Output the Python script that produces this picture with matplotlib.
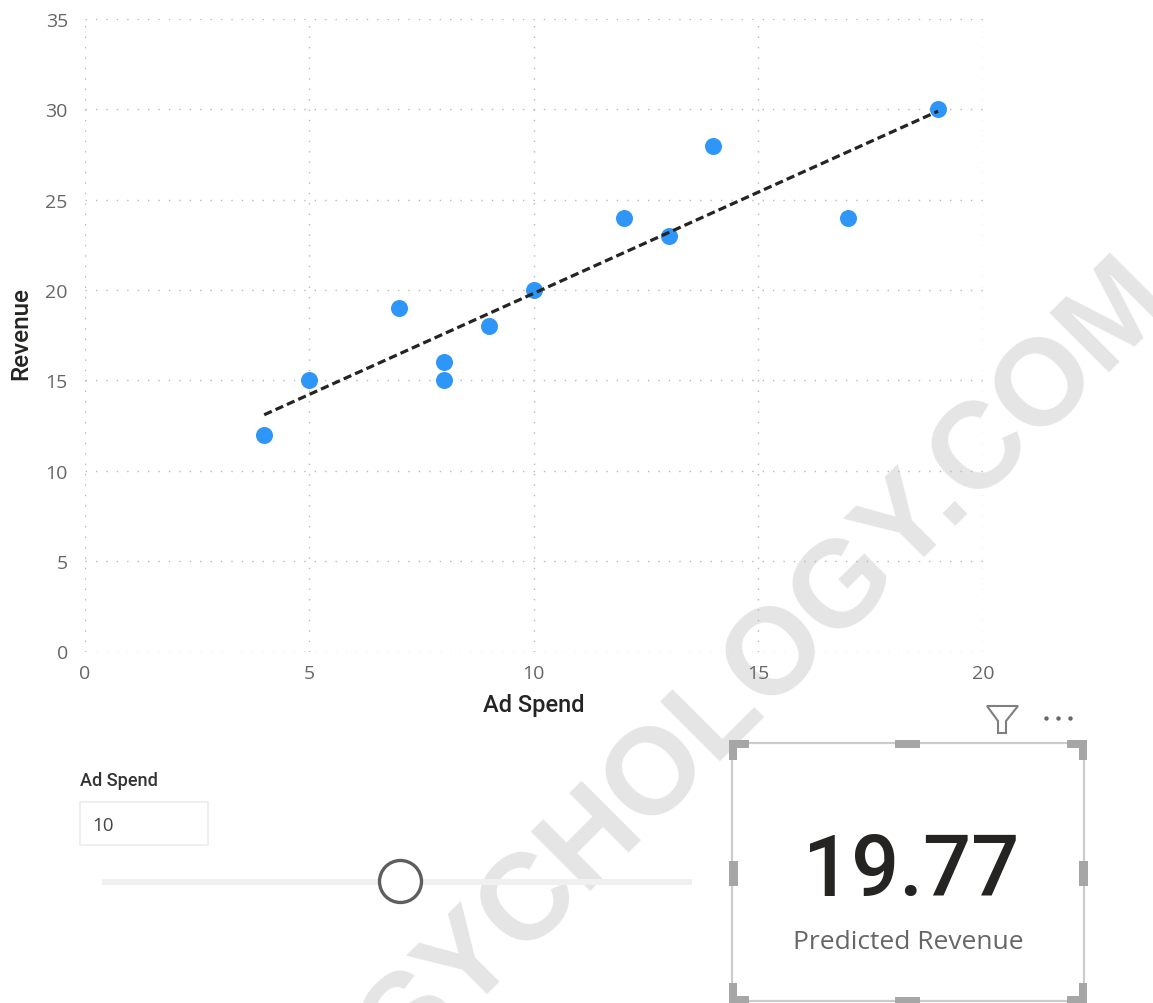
import matplotlib
matplotlib.use("Agg")
import matplotlib.pyplot as plt
from matplotlib.patches import Rectangle, Circle, Polygon

W, H = 1153, 1004

# scatter data
ad_spend = [4, 5, 7, 8, 8, 9, 10, 12, 13, 14, 17, 19]
revenue = [12, 15, 19, 15, 16, 18, 20, 24, 23, 28, 24, 30]
# fitted line ends
trend_x = [4, 19]
trend_y = [13.1, 29.9]

x_ticks = [0, 5, 10, 15, 20]
y_ticks = [0, 5, 10, 15, 20, 25, 30, 35]

slicer_title = "Ad Spend"
slicer_value = "10"
card_value = "19.77"
card_label = "Predicted Revenue"
watermark = "SYCHOLOGY.COM"

BODY = "Open Sans"
HEAD = "Roboto"

fig = plt.figure(figsize=(W / 100, H / 100), dpi=100, facecolor="white")

# full figure overlay in pixel coords, y going down, for the report widgets
ui = fig.add_axes([0, 0, 1, 1], zorder=3)
ui.set_xlim(0, W)
ui.set_ylim(H, 0)
ui.axis("off")
ui.patch.set_alpha(0)

# background layer for the diagonal stamp
bg = fig.add_axes([0, 0, 1, 1], zorder=1)
bg.set_xlim(0, W)
bg.set_ylim(H, 0)
bg.axis("off")
bg.text(768, 665, watermark, rotation=45, rotation_mode="anchor", ha="center", va="center",
        fontsize=88, fontweight="bold", family="Liberation Sans", color="#e5e5e5")

# scatter plot
ax = fig.add_axes([84.5 / W, 1 - 652.5 / H, (983 - 84.5) / W, (652.5 - 20) / H], zorder=2)
ax.patch.set_alpha(0)
ax.set_xlim(0, 20)
ax.set_ylim(0, 35)
for s in ax.spines.values():
    s.set_visible(False)
ax.set_xticks(x_ticks)
ax.set_yticks(y_ticks)
ax.tick_params(axis="x", length=0, labelsize=14, labelcolor="#666666", pad=9)
ax.tick_params(axis="y", length=0, labelsize=14, labelcolor="#666666", pad=12)
for t in ax.get_xticklabels() + ax.get_yticklabels():
    t.set_family(BODY)
ax.grid(True, color="#b8b8b8", linewidth=1.0, linestyle=(0, (1, 6.5)))
ax.set_axisbelow(True)
ax.plot(trend_x, trend_y, color="#252423", linewidth=2.3, linestyle=(0, (2.6, 1.3)), zorder=4)
ax.scatter(ad_spend, revenue, s=150, color="#2f96f9", linewidths=0, zorder=3, clip_on=False)

ui.text(533.5, 706, "Ad Spend", ha="center", va="center", fontsize=17, family=HEAD,
        fontweight="medium", color="#252423")
ui.text(21, 334, "Revenue", ha="center", va="center", rotation=90, fontsize=17.5, family=HEAD,
        fontweight="medium", color="#252423")

# slicer
ui.text(80, 781, slicer_title, ha="left", va="center", fontsize=13, family=HEAD,
        fontweight="medium", color="#333333")
ui.add_patch(Rectangle((80, 803), 127.5, 43, fill=False, edgecolor="#ececec", linewidth=1.2))
ui.text(92, 826, slicer_value, ha="left", va="center", fontsize=13.5, family=BODY, color="#444444")
ui.add_patch(Rectangle((102, 879.5), 590, 6, facecolor="#f0f0f0", edgecolor="none"))
ui.add_patch(Circle((400.5, 882.5), 21, facecolor="white", edgecolor="#605e5c", linewidth=2.4))

# card outline and resize handles
ui.add_patch(Rectangle((732, 744), 352, 258, fill=False, edgecolor="#cccccc", linewidth=1.6))
hc = "#a6a6a6"
for hx, hy, hw, hh in [(895, 741, 25, 8), (895, 998, 25, 6),
                       (729, 862, 8.5, 24.5), (1079, 862, 8.5, 24.5)]:
    ui.add_patch(Rectangle((hx, hy), hw, hh, facecolor=hc, edgecolor="none"))
for cx, cy, dx, dy in [(729, 741, 1, 1), (1087, 741, -1, 1),
                       (729, 1004, 1, -1), (1087, 1004, -1, -1)]:
    ui.add_patch(Rectangle((cx, cy), 20 * dx, 7.5 * dy, facecolor=hc, edgecolor="none"))
    ui.add_patch(Rectangle((cx, cy), 8 * dx, 20 * dy, facecolor=hc, edgecolor="none"))

ui.text(911, 873, card_value, ha="center", va="center", fontsize=61, family=HEAD,
        fontweight="medium", color="#252423")
ui.text(908, 943, card_label, ha="center", va="center", fontsize=19, family=BODY, color="#666666")

# filter icon and more-options dots
ui.add_patch(Polygon([(987, 707), (1018, 707), (1006, 722), (1006, 734), (998, 734), (998, 722)],
                     closed=True, fill=False, edgecolor="#7f7f7f", linewidth=1.5))
for dot_x in (1046.5, 1058.5, 1070.5):
    ui.add_patch(Circle((dot_x, 719.5), 2.2, facecolor="#666666", edgecolor="none"))

fig.savefig("out.png", dpi=100)
